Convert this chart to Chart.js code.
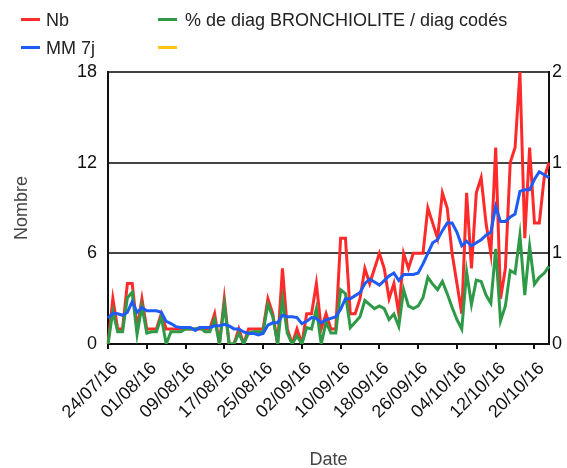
<!DOCTYPE html>
<html lang="fr">
<head>
    <meta charset="UTF-8">
    <title>Bronchiolite - Nb et MM 7j</title>
    <script src="https://cdn.jsdelivr.net/npm/chart.js"></script>
    <style>
        body { margin: 0; background: #fff; }
        #wrap { position: relative; width: 567px; height: 468px; }
        #chart { position: absolute; left: 0; top: 0; }
        .leg { position: absolute; font: 18px Arial, "Liberation Sans", sans-serif; color: #222; line-height: 20px; white-space: nowrap; }
        .leg i { position: absolute; height: 3px; width: 19px; }
    </style>
</head>
<body>
<div id="wrap">
    <canvas id="chart" width="567" height="468"></canvas>
    <div id="legend"></div>
</div>

<script>
    // daily dates 24/07/16 -> 23/10/16
    const dates = [
        '24/07/16','25/07/16','26/07/16','27/07/16','28/07/16','29/07/16','30/07/16','31/07/16',
        '01/08/16','02/08/16','03/08/16','04/08/16','05/08/16','06/08/16','07/08/16','08/08/16',
        '09/08/16','10/08/16','11/08/16','12/08/16','13/08/16','14/08/16','15/08/16','16/08/16',
        '17/08/16','18/08/16','19/08/16','20/08/16','21/08/16','22/08/16','23/08/16','24/08/16',
        '25/08/16','26/08/16','27/08/16','28/08/16','29/08/16','30/08/16','31/08/16','01/09/16',
        '02/09/16','03/09/16','04/09/16','05/09/16','06/09/16','07/09/16','08/09/16','09/09/16',
        '10/09/16','11/09/16','12/09/16','13/09/16','14/09/16','15/09/16','16/09/16','17/09/16',
        '18/09/16','19/09/16','20/09/16','21/09/16','22/09/16','23/09/16','24/09/16','25/09/16',
        '26/09/16','27/09/16','28/09/16','29/09/16','30/09/16','01/10/16','02/10/16','03/10/16',
        '04/10/16','05/10/16','06/10/16','07/10/16','08/10/16','09/10/16','10/10/16','11/10/16',
        '12/10/16','13/10/16','14/10/16','15/10/16','16/10/16','17/10/16','18/10/16','19/10/16',
        '20/10/16','21/10/16','22/10/16','23/10/16'
    ];

    const nb = [
        0, 3, 1, 1, 4, 4, 1, 3, 1, 1,
        1, 2, 1, 1, 1, 1, 1, 1, 1, 1,
        1, 1, 2, 0, 3, 0, 0, 1, 0, 1,
        1, 1, 1, 3, 2, 0, 5, 1, 0, 1,
        0, 2, 2, 4, 1, 2, 1, 1, 7, 7,
        2, 2, 3, 5, 4, 5, 6, 5, 3, 4,
        2, 6, 5, 6, 6, 6, 9, 8, 7, 10,
        9, 6, 4, 2, 10, 5, 10, 11, 8, 6,
        13, 3, 5, 12, 13, 18, 7, 13, 8, 8,
        11, 12
    ];

    const mm7j = [
        1.7, 2.05, 2.0, 1.9, 2.1, 2.8, 2.1, 2.4, 2.2, 2.2,
        2.2, 2.1, 1.5, 1.35, 1.15, 1.1, 1.1, 1.1, 0.9, 1.1,
        1.1, 1.1, 1.2, 1.2, 1.3, 1.2, 1.0, 1.0, 0.8, 0.7,
        0.7, 0.6, 0.7, 1.25, 1.4, 1.4, 1.9, 1.8, 1.8, 1.75,
        1.35, 1.5, 1.75, 1.7, 1.4, 1.6, 1.7, 1.8, 2.3, 3.0,
        3.0, 3.2, 3.4, 4.0, 4.3, 4.1, 3.9, 4.2, 4.5, 4.7,
        4.2, 4.6, 4.6, 4.6, 4.7, 5.3, 6.0, 6.7, 6.9, 7.5,
        8.0, 8.0, 7.4, 6.5, 6.8, 6.5, 6.7, 6.9, 7.2, 7.4,
        9.1, 8.1, 8.1, 8.4, 8.6, 10.1, 10.2, 10.2, 10.9, 11.4,
        11.2, 11.0
    ];

    // % de diag bronchiolite / diag codés (right axis)
    const pctDiag = [
        0, 2.4, 0.9, 0.9, 3.4, 3.8, 0.7, 2.8, 0.8, 0.9,
        0.9, 2.0, 0, 0.9, 0.9, 0.9, 1.1, 1.1, 1.1, 1.2,
        0.9, 0.9, 1.8, 0, 2.9, 0, 0, 0.8, 0, 0.8,
        0.9, 0.9, 0.9, 2.9, 2.0, 0, 3.3, 0.8, 0, 0.6,
        0, 1.2, 1.1, 2.6, 0, 1.6, 0.8, 0.8, 4.0, 3.7,
        1.2, 1.6, 2.0, 3.2, 2.9, 2.6, 2.8, 2.6, 1.8, 2.2,
        1.3, 4.0, 2.8, 2.6, 2.8, 3.4, 4.9, 4.4, 4.0, 4.6,
        3.7, 2.7, 1.8, 1.1, 5.3, 2.9, 4.7, 4.6, 3.6, 3.0,
        7.0, 1.7, 2.8, 5.4, 5.2, 8.0, 3.6, 7.2, 4.4, 4.9,
        5.2, 5.7
    ];

    const leftTicks = [0, 6, 12, 18];
    const rightTicks = [0, 20 / 3, 40 / 3, 20];
    const rightTickLabels = ['0', '1', '1', '2'];   // cut off at the canvas edge in the original

    const series = [
        { label: 'Nb', data: nb, color: '#ff2a2a', axis: 'y', order: 3 },
        { label: '% de diag BRONCHIOLITE / diag codés', data: pctDiag, color: '#2e9a47', axis: 'y2', order: 2 },
        { label: 'MM 7j', data: mm7j, color: '#1f5cf5', axis: 'y', order: 1 },
        { label: '', data: [], color: '#ffc414', axis: 'y2', order: 0 }
    ];

    // legend: two columns, filled row by row
    const legend = document.getElementById('legend');
    series.forEach((s, i) => {
        const col = i % 2, row = Math.floor(i / 2);
        const x = col === 0 ? 21 : 158, y = 10 + row * 28;
        const d = document.createElement('div');
        d.className = 'leg';
        d.style.left = x + 'px';
        d.style.top = y + 'px';
        d.innerHTML = '<i style="left:0;top:8px;background:' + s.color + '"></i>' +
            '<span style="margin-left:' + (col === 0 ? 25 : 27) + 'px">' + s.label + '</span>';
        legend.appendChild(d);
    });

    Chart.defaults.font.family = 'Arial, "Liberation Sans", sans-serif';
    Chart.defaults.font.size = 18;
    Chart.defaults.color = '#111';

    new Chart(document.getElementById('chart'), {
        type: 'line',
        data: {
            labels: dates,
            datasets: series.map(s => ({
                label: s.label,
                data: s.data,
                borderColor: s.color,
                backgroundColor: s.color,
                borderWidth: 3,
                pointRadius: 0,
                tension: 0,
                yAxisID: s.axis,
                order: s.order
            }))
        },
        options: {
            responsive: false,
            animation: false,
            layout: { padding: { top: 72, left: 0, right: 0, bottom: 0 } },
            plugins: { legend: { display: false }, tooltip: { enabled: false } },
            scales: {
                x: {
                    offset: false,
                    afterBuildTicks: axis => { axis.ticks = axis.ticks.filter((t, i) => i % 8 === 0); },
                    afterFit: s => { s.height = 124; },
                    ticks: { autoSkip: false, minRotation: 45, maxRotation: 45, padding: 9, labelOffset: 7, color: '#111' },
                    grid: { drawOnChartArea: false, drawTicks: true, tickLength: 5, color: '#111', lineWidth: 2 },
                    border: { color: '#111', width: 2 },
                    title: { display: true, text: 'Date', color: '#444', font: { size: 18, lineHeight: 1 }, padding: { top: 0, bottom: -1 } }
                },
                y: {
                    position: 'left',
                    min: 0, max: 18,
                    afterBuildTicks: axis => { axis.ticks = leftTicks.map(v => ({ value: v })); },
                    afterFit: s => { s.width = 108; },
                    ticks: { padding: 11, color: '#111' },
                    grid: { drawTicks: false, color: '#444', lineWidth: 2 },
                    border: { color: '#111', width: 2 },
                    title: { display: true, text: 'Nombre', color: '#444', font: { size: 18, lineHeight: 1 }, padding: { top: 13, bottom: 0 } }
                },
                y2: {
                    position: 'right',
                    min: 0, max: 20,
                    afterBuildTicks: axis => { axis.ticks = rightTicks.map(v => ({ value: v })); },
                    afterFit: s => { s.width = 18; },
                    ticks: {
                        padding: 3, color: '#111',
                        callback: (v, i) => rightTickLabels[i]
                    },
                    grid: { drawOnChartArea: false, drawTicks: false },
                    border: { color: '#111', width: 2 }
                }
            }
        }
    });
</script>
</body>
</html>
